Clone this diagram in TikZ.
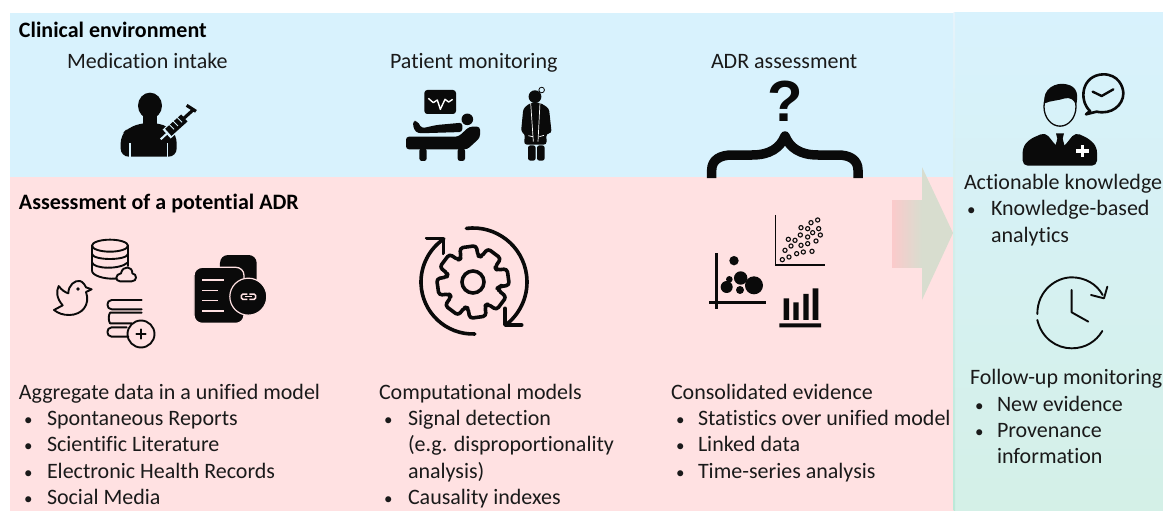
\documentclass[tikz,border=0pt]{standalone}
\usepackage{fontspec}
\setmainfont{Carlito}[Ligatures={NoCommon,NoContextual}]
\newfontfamily\qfont{Liberation Sans}
\definecolor{bluebg}{HTML}{D8F2FD}
\definecolor{pinkbg}{HTML}{FFE1E2}
\definecolor{greenbg}{HTML}{D4F0E7}
\definecolor{ink}{HTML}{0A0A0A}
\definecolor{txt}{HTML}{1A1A1A}
\definecolor{headc}{HTML}{D8DDCF}
\definecolor{tailc}{HTML}{FBCACB}
\definecolor{striptop}{HTML}{E6F3FB}
\definecolor{stripbot}{HTML}{BBE9D8}
\tikzset{
  lbl/.style={anchor=base west,inner sep=0pt,outer sep=0pt,font=\fontsize{22}{22}\selectfont,text=txt},
  bul/.style={lbl,font=\fontsize{17}{17}\selectfont},
  hdr/.style={lbl,font=\fontsize{22}{22}\selectfont\bfseries,text=black},
  zone/.style={shift={#1},x=0.33333pt,y=-0.33333pt},
  lineicon/.style={draw=ink,line width=1.9pt,line cap=round,line join=round},
}
\begin{document}
\begin{tikzpicture}[x=1pt,y=-1pt]
\useasboundingbox (0,0) rectangle (1163,511);
% backgrounds
\fill[white] (0,0) rectangle (1163,511);
\fill[bluebg] (10,13) rectangle (953.5,177);
\fill[pinkbg] (10,177) rectangle (953.5,511);
\shade[top color=bluebg,bottom color=greenbg] (955,13) rectangle (1163,511);
\shade[top color=striptop,bottom color=stripbot] (953.5,13) rectangle (955,511);
% big arrow
\shade[left color=tailc,right color=headc] (892,200) rectangle (922,267);
\fill[headc] (922,167) -- (953,233) -- (922,300) -- cycle;
% texts
\node[hdr] (t1) at (19,38) {Clinical environment};
\node[lbl] (t2) at (67,69) {Medication intake};
\node[lbl] (t3) at (390,69) {Patient monitoring};
\node[lbl] (t4) at (711,69) {ADR assessment};
\node[hdr] (t5) at (19,209) {Assessment of a potential ADR};
\node[lbl] (a0) at (19,399) {Aggregate data in a unified model};
\node[bul] (a1b) at (24,425) {•}; \node[lbl] (a1) at (47,425) {Spontaneous Reports};
\node[bul] (a2b) at (24,451) {•}; \node[lbl] (a2) at (47,451) {Scientific Literature};
\node[bul] (a3b) at (24,478) {•}; \node[lbl] (a3) at (47,478) {Electronic Health Records};
\node[bul] (a4b) at (24,504) {•}; \node[lbl] (a4) at (47,504) {Social Media};
\node[lbl] (b0) at (379,399) {Computational models};
\node[bul] (b1b) at (384,425) {•}; \node[lbl] (b1) at (408,425) {Signal detection};
\node[lbl] (b2) at (408,451) {(e.g. disproportionality};
\node[lbl] (b3) at (408,478) {analysis)};
\node[bul] (b4b) at (384,504) {•}; \node[lbl] (b4) at (408,504) {Causality indexes};
\node[lbl] (c0) at (671,399) {Consolidated evidence};
\node[bul] (c1b) at (676,425) {•}; \node[lbl] (c1) at (698,425) {Statistics over unified model};
\node[bul] (c2b) at (676,451) {•}; \node[lbl] (c2) at (698,451) {Linked data};
\node[bul] (c3b) at (676,478) {•}; \node[lbl] (c3) at (698,478) {Time-series analysis};
\node[lbl] (d0) at (964,189) {Actionable knowledge};
\node[bul] (d1b) at (967,215) {•}; \node[lbl] (d1) at (991,215) {Knowledge-based};
\node[lbl] (d2) at (991,242) {analytics};
\node[lbl] (e0) at (970,384) {Follow-up monitoring};
\node[bul] (e1b) at (975,411) {•}; \node[lbl] (e1) at (997,411) {New evidence};
\node[bul] (e2b) at (975,437) {•}; \node[lbl] (e2) at (997,437) {Provenance};
\node[lbl] (e3) at (997,463) {information};
% person with syringe
\begin{scope}[zone={(0,0)}]
\fill[ink] (450,317) ellipse[x radius=12pt,y radius=13pt];
\fill[ink] (428,340) rectangle (472,380);
\fill[ink,rounded corners=8pt] (362,470) -- (362,405) -- (385,383) -- (430,368) -- (470,368) -- (510,383) -- (530,405) -- (530,470) -- cycle;
\draw[bluebg,line width=1.1pt] (390,430) -- (390,470) (502,430) -- (502,470);
\draw[bluebg,line width=12pt] (500,402) -- (556,352);
\draw[bluebg,line width=2pt] (482,418) -- (505,397);
\draw[ink,line width=9.5pt] (505,397) -- (553,354);
\draw[ink,line width=3.2pt] (548,358) -- (578,331) (560,316) -- (588,334);
\draw[bluebg,line width=.9pt] (506,372) -- (522,388) (518,362) -- (534,378) (530,351) -- (546,367);
\end{scope}
% patient and doctor
\begin{scope}[zone={(380,70)}]
\fill[ink,rounded corners=3pt] (133,60) rectangle (228,132);
\draw[white,line width=1.4pt,line join=round] (145,85) -- (160,98) -- (172,90) -- (181,118) -- (195,88) -- (206,96) -- (218,88);
\fill[ink,rounded corners=3pt] (78,200) -- (235,200) -- (268,170) -- (300,170) -- (300,203) -- (262,238) -- (78,238) -- cycle;
\fill[ink,rounded corners=2.5pt] (118,235) rectangle (140,273) (233,235) rectangle (255,273);
\fill[ink,rounded corners=3pt] (98,153) -- (112,153) -- (125,175) -- (170,165) -- (247,158) -- (247,186) -- (115,190) -- (102,180) -- cycle;
\fill[ink] (262,148) circle[radius=5.8pt];
\fill[ink] (465,80) circle[radius=6.4pt];
\draw[ink,line width=.8pt] (485,60) circle[radius=2.8pt];
\fill[ink,rounded corners=3pt] (452,98) -- (480,98) -- (507,115) -- (515,190) -- (499,190) -- (500,224) -- (432,224) -- (435,190) -- (423,187) -- (430,115) -- cycle;
\fill[ink,rounded corners=2.5pt] (444,226) rectangle (467,272) (471,226) rectangle (494,272);
\draw[white,line width=.7pt] (452,98) -- (460,215) (480,98) -- (474,215) (445,197) -- (458,200) (478,200) -- (492,196);
\end{scope}
% question mark and brace
\node[inner sep=0pt,font=\qfont\fontsize{58}{58}\selectfont\bfseries,text=ink] (q) at (785,101) {?};
\draw[ink,line width=9.5pt,line join=round] (711.7,178) -- (711.7,170) .. controls (711.7,160) and (720,155) .. (732,155) -- (752,155) .. controls (770,155) and (780,148) .. (785,136) .. controls (790,148) and (800,155) .. (818,155) -- (838,155) .. controls (850,155) and (858,160) .. (858,170) -- (858,178);
% database, bird, books, linked documents
\begin{scope}[zone={(40,230)}]
\begin{scope}[lineicon]
\draw (210,47) ellipse[x radius=18pt,y radius=6pt];
\draw (156,47) -- (156,122) .. controls (156,136) and (190,148) .. (228,146);
\draw (264,47) -- (264,108);
\draw (156,72) .. controls (160,92) and (260,92) .. (264,72);
\draw (156,97) .. controls (160,117) and (240,120) .. (264,97);
\draw[fill=pinkbg] (240,154) .. controls (225,154) and (225,132) .. (243,130) .. controls (248,105) and (278,108) .. (277,130) .. controls (292,132) and (292,154) .. (275,154) -- cycle;
% bird
\draw (155,178) -- (138,186) .. controls (152,225) and (125,255) .. (88,255) .. controls (68,255) and (55,250) .. (42,240) -- (68,226) .. controls (50,205) and (48,185) .. (56,168) .. controls (65,180) and (75,187) .. (85,190) .. controls (85,165) and (105,150) .. (120,153) .. controls (128,155) and (135,165) .. (138,172) -- cycle;
\fill[ink] (114,177) circle[radius=1.8pt];
% books
\draw (305,210) -- (215,210) .. controls (198,210) and (198,238) .. (215,238) -- (305,238);
\draw (305,248) -- (210,248) (210,248) .. controls (205,256) and (205,272) .. (210,280) -- (275,280);
\draw (260,292) -- (215,292) .. controls (198,292) and (198,320) .. (215,320) -- (265,320);
\draw (303,312) circle[radius=13.5pt];
\draw (303,298) -- (303,326) (289,312) -- (317,312);
\end{scope}
\fill[ink,rounded corners=8pt] (540,75) rectangle (650,200);
\fill[ink,rounded corners=8pt,draw=pinkbg,line width=1.3pt] (462,112) rectangle (612,280);
\draw[pinkbg,line width=1.2pt] (487,150) -- (552,150) (487,182) -- (535,182) (487,212) -- (535,212) (487,243) -- (552,243);
\fill[ink,draw=pinkbg,line width=1.2pt] (625,200) circle[radius=18.5pt];
\draw[pinkbg,line width=1.5pt,rounded corners=1.5pt] (622,192) -- (604,192) -- (604,208) -- (622,208);
\draw[pinkbg,line width=1.5pt,rounded corners=1.5pt] (628,192) -- (647,192) -- (647,208) -- (628,208);
\draw[pinkbg,line width=1.2pt] (614,200) -- (636,200);
\end{scope}
% gear
\begin{scope}[shift={(473,282)},line width=3.6pt,draw=ink,line cap=round,line join=round]
\draw[rounded corners=3.2pt] (-10:27pt) \foreach \a in {8,53,98,143,188,233,278,323} { -- ({\a-13}:36.5pt) -- ({\a+13}:36.5pt) -- ({\a+19}:26.5pt) -- ({\a+26}:26.5pt)} -- cycle;
\draw (0,0) circle[radius=11pt];
\draw (-88:52pt) arc[start angle=-88,end angle=-236,radius=52pt];
\draw (97:54pt) arc[start angle=97,end angle=-51,radius=54pt];
\end{scope}
\draw[ink,line width=3.6pt,line cap=round,line join=round] (426.7,238.3) -- (443.3,238.3) -- (443.3,253.3);
\draw[ink,line width=3.6pt,line cap=round,line join=round] (505,308.3) -- (505,325) -- (521.7,325);
% charts
\begin{scope}[zone={(690,70)}]
\draw[ink,line width=1.4pt] (257,435) -- (257,585) -- (405,585);
\foreach \p in {(383,450),(363,458),(333,473),(353,476),(386,476),(368,488),(331,495),(391,495),(353,501),(295,508),(315,511),(378,513),(353,521),(333,526),(303,528),(285,541),(340,546),(366,544),(320,551),(297,561),(277,569)}
  \draw[ink,line width=1.1pt] \p circle[radius=2.1pt];
\draw[ink,line width=3.3pt] (80,550) -- (80,718) (58,697) -- (228,697);
\foreach \cx/\cy/\r in {132/572/4.7,152/624/6.7,192/646/9,110/651/6,118/628/3.3,150/660/4}
  \fill[ink] (\cx,\cy) circle[radius=\r pt];
\fill[ink] (281,685) rectangle (297,750) (310,697) rectangle (326,750) (340,672) rectangle (356,750) (368,655) rectangle (385,750) (268,760) rectangle (393,772);
\end{scope}
% expert with speech bubble, clock
\begin{scope}[zone={(950,60)}]
\draw[ink,line width=1.3pt] (330,140) ellipse[x radius=16pt,y radius=19.5pt];
\fill[ink] (284,130) .. controls (275,85) and (320,65) .. (350,73) .. controls (385,80) and (385,110) .. (378,135) .. controls (372,118) and (360,112) .. (345,115) .. controls (325,122) and (300,122) .. (284,130) -- cycle;
\fill[ink,rounded corners=5pt] (218,317) -- (218,262) -- (238,238) -- (286,217) -- (322,262) -- (340,262) -- (376,217) -- (420,238) -- (441,262) -- (441,317) -- cycle;
\fill[ink] (318,220) -- (342,220) -- (338,236) -- (345,262) -- (315,262) -- (322,236) -- cycle;
\draw[bluebg,line width=.8pt] (300,222) -- (318,246) (360,222) -- (342,246);
\draw[white,line width=3.2pt] (397,255) -- (397,292) (378,273) -- (416,273);
\draw[ink,line width=2.6pt,line join=round] (420,153) .. controls (385,120) and (395,45) .. (460,43) .. controls (505,43) and (520,80) .. (520,100) .. controls (520,135) and (485,165) .. (440,155) -- (408,163) -- cycle;
\draw[ink,line width=2.4pt,line cap=round,line join=round] (428,95) -- (455,108) -- (490,88);
\begin{scope}[lineicon]
\draw (262,762) .. controls (262,690) and (320,652) .. (365,652) .. controls (405,652) and (440,672) .. (458,705);
\draw (262,780) .. controls (275,835) and (320,865) .. (365,865) .. controls (405,865) and (438,845) .. (457,813);
\draw (365,690) -- (365,757) -- (415,785);
\draw (423,705) -- (462,715) -- (472,680);
\end{scope}
\end{scope}
\end{tikzpicture}
\end{document}
